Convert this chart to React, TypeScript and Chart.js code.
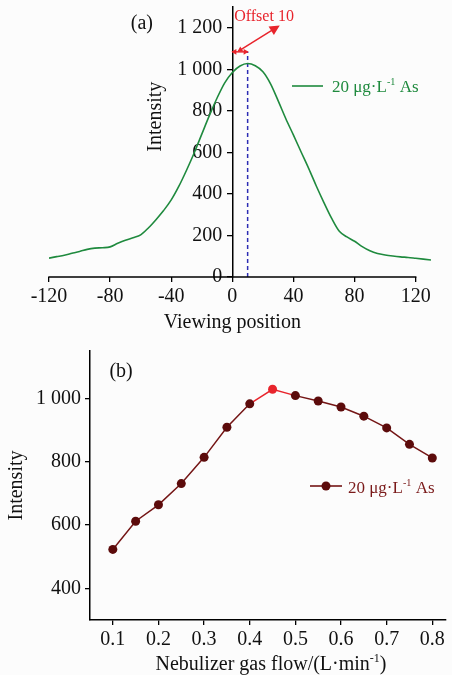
import React, { useEffect, useRef } from "react";
import { Chart, registerables } from "chart.js";

Chart.register(...registerables);

const FONT = "'Liberation Serif', 'Times New Roman', Times, serif";
const GREEN = "#1f8a3e";
const BLUE = "#2c2cb4";
const RED = "#e8242c";
const DARK_RED = "#5c0b0b";
const LINE_RED = "#741515";
const TEXT_RED = "#7a1a1a";
const BG = "#fcfcfc";

// ---------- Panel (a): intensity vs viewing position ----------
const viewingPosition = [
  -120, -115, -110, -105, -100, -95, -90, -85, -80, -75, -70, -65, -60, -55, -50, -45, -40,
  -35, -30, -25, -20, -15, -10, -5, 0, 5, 10, 15, 20, 25, 30, 35, 40, 45, 50, 55, 60, 65,
  70, 75, 80, 85, 90, 95, 100, 105, 110, 115, 120, 125, 130,
];
const intensityA = [
  91, 98, 105, 114, 123, 133, 139, 141, 145, 162, 177, 189, 203, 236, 276, 320, 371,
  437, 514, 597, 688, 778, 862, 935, 985, 1016, 1028, 1017, 988, 930, 848, 762, 683, 602, 522, 437, 357, 282,
  220, 193, 172, 146, 126, 113, 106, 101, 97, 94, 90, 86, 82,
];
const xTicksA = [-120, -80, -40, 0, 40, 80, 120];
const yTicksA = [0, 200, 400, 600, 800, 1000, 1200];
const offsetValue = 10;
const offsetMarkerY = 1084;
const offsetArrowFrom = [4, 1088];
const offsetArrowTo = [31, 1211];
const offsetLabel = "Offset 10";
const offsetLabelAt = [1.2, 1231];
const panelA = "(a)";
const panelAAt = [-66.5, 1195];
const xTitleA = "Viewing position";

// ---------- Panel (b): intensity vs nebulizer gas flow ----------
const gasFlow = [0.1, 0.15, 0.2, 0.25, 0.3, 0.35, 0.4, 0.45, 0.5, 0.55, 0.6, 0.65, 0.7, 0.75, 0.8];
const intensityB = [523, 612, 664, 731, 814, 909, 983, 1029, 1009, 992, 973, 944, 907, 855, 812];
const optimumIndex = 7;
const xTicksB = [0.1, 0.2, 0.3, 0.4, 0.5, 0.6, 0.7, 0.8];
const yTicksB = [400, 600, 800, 1000];
const panelB = "(b)";
const panelBAt = [0.0926, 1069];

type Run = { t: string; sup?: boolean };
const legendRuns: Run[] = [{ t: "20 μg·L" }, { t: "-1", sup: true }, { t: " As" }];
const xTitleB: Run[] = [{ t: "Nebulizer gas flow/(L·min" }, { t: "-1", sup: true }, { t: ")" }];

function fmt(v: number): string {
  if (v >= 1000) return `${Math.floor(v / 1000)} ${String(v % 1000).padStart(3, "0")}`;
  return String(v);
}

function drawRich(ctx: CanvasRenderingContext2D, runs: Run[], x: number, y: number, size: number, color: string, align: "left" | "center") {
  ctx.save();
  ctx.fillStyle = color;
  ctx.textBaseline = "alphabetic";
  ctx.textAlign = "left";
  const supSize = size * 0.6;
  const widths = runs.map((r) => {
    ctx.font = `${r.sup ? supSize : size}px ${FONT}`;
    return ctx.measureText(r.t).width;
  });
  const total = widths.reduce((a, b) => a + b, 0);
  let cx = align === "center" ? x - total / 2 : x;
  runs.forEach((r, i) => {
    ctx.font = `${r.sup ? supSize : size}px ${FONT}`;
    ctx.fillText(r.t, cx, r.sup ? y - size * 0.4 : y);
    cx += widths[i];
  });
  ctx.restore();
}

function arrowHead(ctx: CanvasRenderingContext2D, fx: number, fy: number, tx: number, ty: number, len: number, half: number, color: string) {
  const a = Math.atan2(ty - fy, tx - fx);
  ctx.save();
  ctx.fillStyle = color;
  ctx.beginPath();
  ctx.moveTo(tx, ty);
  ctx.lineTo(tx - len * Math.cos(a) + half * Math.sin(a), ty - len * Math.sin(a) - half * Math.cos(a));
  ctx.lineTo(tx - len * Math.cos(a) - half * Math.sin(a), ty - len * Math.sin(a) + half * Math.cos(a));
  ctx.closePath();
  ctx.fill();
  ctx.restore();
}

const axisLook = {
  grid: { display: true, drawOnChartArea: false, drawTicks: true, tickLength: 5, color: "#000", lineWidth: 1.3 },
  border: { display: true, color: "#000", width: 1.5 },
};

const annotA = {
  id: "annotA",
  afterDatasetsDraw(chart: any) {
    const ctx: CanvasRenderingContext2D = chart.ctx;
    const xs = chart.scales.x;
    const ys = chart.scales.y;
    // x-axis line drawn from first to last tick
    const yb = ys.getPixelForValue(0);
    const xl = xs.getPixelForValue(xTicksA[0]);
    const xr = xs.getPixelForValue(xTicksA[xTicksA.length - 1]);
    ctx.save();
    ctx.strokeStyle = "#000";
    ctx.lineWidth = 1.5;
    ctx.beginPath();
    ctx.moveTo(xl - 0.7, yb);
    ctx.lineTo(xr + 0.7, yb);
    ctx.stroke();
    ctx.restore();
    // x title centered under the drawn axis
    drawRich(ctx, [{ t: xTitleA }], (xl + xr) / 2, 328, 20, "#111", "center");
    // horizontal double arrow (offset)
    const x0 = xs.getPixelForValue(0);
    const x1 = xs.getPixelForValue(offsetValue);
    const yh = ys.getPixelForValue(offsetMarkerY);
    ctx.save();
    ctx.strokeStyle = RED;
    ctx.lineWidth = 1.5;
    ctx.beginPath();
    ctx.moveTo(x0, yh);
    ctx.lineTo(x1, yh);
    ctx.stroke();
    arrowHead(ctx, x1, yh, x0 - 1, yh, 5, 2.8, RED);
    arrowHead(ctx, x0, yh, x1 + 1, yh, 5, 2.8, RED);
    // diagonal arrow
    const fx = xs.getPixelForValue(offsetArrowFrom[0]);
    const fy = ys.getPixelForValue(offsetArrowFrom[1]);
    const tx = xs.getPixelForValue(offsetArrowTo[0]);
    const ty = ys.getPixelForValue(offsetArrowTo[1]);
    const ang = Math.atan2(ty - fy, tx - fx);
    ctx.beginPath();
    ctx.moveTo(fx, fy);
    ctx.lineTo(tx - 7 * Math.cos(ang), ty - 7 * Math.sin(ang));
    ctx.stroke();
    arrowHead(ctx, fx, fy, tx, ty, 10, 5, RED);
    arrowHead(ctx, tx, ty, fx - 1, fy + 0.5, 5, 2.8, RED);
    ctx.restore();
    // texts
    drawRich(ctx, [{ t: offsetLabel }], xs.getPixelForValue(offsetLabelAt[0]), ys.getPixelForValue(offsetLabelAt[1]), 16, RED, "left");
    drawRich(ctx, [{ t: panelA }], xs.getPixelForValue(panelAAt[0]), ys.getPixelForValue(panelAAt[1]), 20, "#111", "left");
    // y title
    ctx.save();
    ctx.translate(x0 - 77, ys.getPixelForValue(772));
    ctx.rotate(-Math.PI / 2);
    ctx.font = `20px ${FONT}`;
    ctx.fillStyle = "#111";
    ctx.textAlign = "center";
    ctx.textBaseline = "middle";
    ctx.fillText("Intensity", 0, 0);
    ctx.restore();
    // legend
    ctx.save();
    ctx.strokeStyle = GREEN;
    ctx.lineWidth = 1.6;
    ctx.beginPath();
    ctx.moveTo(292, 86);
    ctx.lineTo(323, 86);
    ctx.stroke();
    ctx.restore();
    drawRich(ctx, legendRuns, 332, 92, 17, GREEN, "left");
  },
};

const annotB = {
  id: "annotB",
  afterDatasetsDraw(chart: any) {
    const ctx: CanvasRenderingContext2D = chart.ctx;
    const xs = chart.scales.x;
    const ys = chart.scales.y;
    drawRich(ctx, [{ t: panelB }], xs.getPixelForValue(panelBAt[0]), ys.getPixelForValue(panelBAt[1]), 20, "#111", "left");
    drawRich(ctx, xTitleB, (chart.chartArea.left + chart.chartArea.right) / 2 + 3, 335, 20, "#111", "center");
    // legend
    ctx.save();
    ctx.strokeStyle = LINE_RED;
    ctx.lineWidth = 1.6;
    ctx.beginPath();
    ctx.moveTo(310, 151);
    ctx.lineTo(342, 151);
    ctx.stroke();
    ctx.fillStyle = DARK_RED;
    ctx.beginPath();
    ctx.arc(326, 151, 4.5, 0, Math.PI * 2);
    ctx.fill();
    ctx.restore();
    drawRich(ctx, legendRuns, 348, 158, 17, TEXT_RED, "left");
  },
};

function configA(): any {
  return {
    type: "line",
    data: {
      datasets: [
        {
          label: "20 μg·L-1 As",
          data: viewingPosition.map((x, i) => ({ x, y: intensityA[i] })),
          borderColor: GREEN,
          borderWidth: 1.6,
          pointRadius: 0,
          cubicInterpolationMode: "monotone",
        },
        {
          label: "offset",
          data: [
            { x: offsetValue, y: 0 },
            { x: offsetValue, y: offsetMarkerY },
          ],
          borderColor: BLUE,
          borderWidth: 1.5,
          borderDash: [4, 3],
          pointRadius: 0,
        },
      ],
    },
    options: {
      responsive: false,
      animation: false,
      layout: { padding: { left: 49, right: 21, top: 7, bottom: 0 } },
      plugins: { legend: { display: false }, tooltip: { enabled: false } },
      scales: {
        x: {
          type: "linear",
          position: "bottom",
          min: -120,
          max: 130,
          afterBuildTicks: (s: any) => {
            s.ticks = xTicksA.map((v) => ({ value: v }));
          },
          afterFit: (s: any) => {
            s.height = 58;
            s.paddingLeft = 0;
            s.paddingRight = 0;
          },
          grid: axisLook.grid,
          border: { display: false },
          ticks: { font: { family: FONT, size: 20 }, color: "#111", padding: 2.5, maxRotation: 0, autoSkip: false },
          title: { display: false },
        },
        y: {
          type: "linear",
          position: { x: 0 },
          min: 0,
          max: 1300,
          afterBuildTicks: (s: any) => {
            s.ticks = yTicksA.map((v) => ({ value: v }));
          },
          afterFit: (s: any) => {
            s.paddingTop = 0;
            s.paddingBottom = 0;
          },
          ...axisLook,
          ticks: { font: { family: FONT, size: 20 }, color: "#111", padding: 6, callback: (v: number) => fmt(v) + "  " },
        },
      },
    },
    plugins: [annotA],
  };
}

function configB(): any {
  return {
    type: "line",
    data: {
      datasets: [
        {
          label: "20 μg·L-1 As",
          data: gasFlow.map((x, i) => ({ x, y: intensityB[i] })),
          borderColor: LINE_RED,
          borderWidth: 1.5,
          pointRadius: 4.5,
          pointBackgroundColor: gasFlow.map((_, i) => (i === optimumIndex ? RED : DARK_RED)),
          pointBorderColor: gasFlow.map((_, i) => (i === optimumIndex ? RED : DARK_RED)),
          pointBorderWidth: 0,
          tension: 0,
          segment: {
            borderColor: (c: any) => (c.p0DataIndex === optimumIndex || c.p1DataIndex === optimumIndex ? RED : LINE_RED),
          },
        },
      ],
    },
    options: {
      responsive: false,
      animation: false,
      layout: { padding: { left: 0, right: 6, top: 15, bottom: 0 } },
      plugins: { legend: { display: false }, tooltip: { enabled: false } },
      scales: {
        x: {
          type: "linear",
          position: "bottom",
          min: 0.05,
          max: 0.83,
          afterBuildTicks: (s: any) => {
            s.ticks = xTicksB.map((v) => ({ value: v }));
          },
          afterFit: (s: any) => {
            s.height = 55;
          },
          ...axisLook,
          ticks: { font: { family: FONT, size: 20 }, color: "#111", padding: 3, maxRotation: 0, autoSkip: false, callback: (v: number) => v.toFixed(1) },
        },
        y: {
          type: "linear",
          position: "left",
          min: 300,
          max: 1150,
          afterBuildTicks: (s: any) => {
            s.ticks = yTicksB.map((v) => ({ value: v }));
          },
          afterFit: (s: any) => {
            s.width = 90;
          },
          ...axisLook,
          ticks: { font: { family: FONT, size: 20 }, color: "#111", padding: 4, callback: (v: number) => fmt(v) },
          title: { display: true, text: "Intensity", font: { family: FONT, size: 20 }, color: "#111", padding: { top: 4.5, bottom: 0 } },
        },
      },
    },
    plugins: [annotB],
  };
}

export default function App() {
  const refA = useRef<HTMLCanvasElement>(null);
  const refB = useRef<HTMLCanvasElement>(null);
  useEffect(() => {
    const a = new Chart(refA.current!, configA());
    const b = new Chart(refB.current!, configB());
    return () => {
      a.destroy();
      b.destroy();
    };
  }, []);
  return (
    <div style={{ position: "absolute", left: 0, top: 0, width: 452, height: 675, background: BG }}>
      <canvas ref={refA} width={452} height={335} style={{ position: "absolute", left: 0, top: 0 }} />
      <canvas ref={refB} width={452} height={340} style={{ position: "absolute", left: 0, top: 335 }} />
    </div>
  );
}
